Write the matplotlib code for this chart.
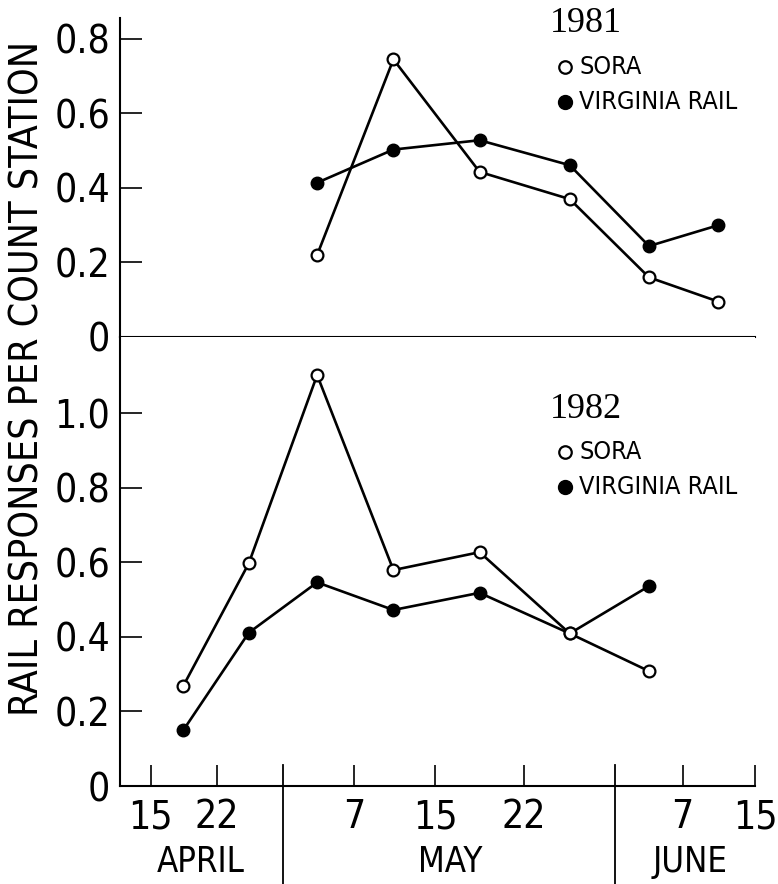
import os
import matplotlib
matplotlib.use("Agg")
import matplotlib.pyplot as plt
from matplotlib import font_manager
from matplotlib.font_manager import FontProperties
from matplotlib.lines import Line2D
from matplotlib.textpath import TextPath
from matplotlib.transforms import blended_transform_factory


# Data (x = day counted from 31 March)
days_1981 = [31.8, 39.5, 48.2, 57.3, 65.3, 72.3]
sora_1981 = [0.220, 0.745, 0.443, 0.370, 0.160, 0.095]
vrail_1981 = [0.414, 0.503, 0.528, 0.461, 0.244, 0.300]

days_1982 = [18.3, 24.9, 31.8, 39.5, 48.2, 57.3, 65.3]
sora_1982 = [0.269, 0.597, 1.102, 0.579, 0.627, 0.409, 0.308]
vrail_1982 = [0.150, 0.411, 0.546, 0.472, 0.518, 0.409, 0.536]

day_ticks = [15.0, 21.7, 35.5, 43.7, 52.7, 68.7, 76.0]
day_labels = ["15", "22", "7", "15", "22", "7", "15"]
month_breaks = [28.4, 61.9]
months = ["APRIL", "MAY", "JUNE"]
month_centers = [20.0, 45.2, 69.4]

yticks_1981 = [0, 0.2, 0.4, 0.6, 0.8]
yticks_1982 = [0, 0.2, 0.4, 0.6, 0.8, 1.0]


def pick_font(prefs, fallback):
    files = [f.fname for f in font_manager.fontManager.ttflist]
    for p in prefs:
        for fn in files:
            if os.path.basename(fn).lower() == p.lower():
                return FontProperties(fname=fn)
    return FontProperties(family=fallback)


# narrow sans, as in the original typesetting
sans = pick_font(["NotoSans-ExtraCondensed.ttf", "LiberationSansNarrow-Regular.ttf",
                  "NotoSans-Condensed.ttf", "DejaVuSansCondensed.ttf"], "DejaVu Sans")
serif = pick_font(["LiberationSerif-Regular.ttf"], "DejaVu Serif")


def fit(text, fp, w, h):
    """font size (pt, dpi 100) so the text fits in about w x h pixels"""
    bb = TextPath((0, 0), text, size=100, prop=fp).get_extents()
    sw = w / (bb.width / 72)
    sh = h / (bb.height / 72)
    return min(sh, sw)


fs_tick = fit("0.8", sans, 51, 40)
fs_month = fit("APRIL", sans, 88, 36)
fs_ylab = fit("RAIL RESPONSES PER COUNT STATION", sans, 667, 30)
fs_leg = fit("VIRGINIA RAIL", sans, 157, 24)
fs_year = fit("1981", serif, 67, 28)

W, H = 778, 884
fig = plt.figure(figsize=(W / 100, H / 100), dpi=100)

x0, x1 = 120, 755
ax_top = fig.add_axes([x0 / W, (H - 337) / H, (x1 - x0) / W, (337 - 18) / H])
ax_bot = fig.add_axes([x0 / W, (H - 786) / H, (x1 - x0) / W, (786 - 337) / H])

xlim = (11.9, 76.0)
lw = 1.9

for ax, ylim, yt in ((ax_top, (0, 0.856), yticks_1981), (ax_bot, (0, 1.204), yticks_1982)):
    ax.set_xlim(*xlim)
    ax.set_ylim(*ylim)
    for s in ("top", "right"):
        ax.spines[s].set_visible(False)
    for s in ("left", "bottom"):
        ax.spines[s].set_linewidth(1.5)
    ax.set_yticks(yt)
    ax.set_yticklabels(["0" if v == 0 else f"{v:.1f}" for v in yt])
    ax.tick_params(axis="y", direction="in", length=16, width=1.2, pad=7)
    for t in ax.get_yticklabels():
        t.set_fontproperties(sans)
        t.set_fontsize(fs_tick)

ax_top.yaxis.get_major_ticks()[0].tick1line.set_visible(False)
ax_top.set_xticks([])

ax_bot.set_xticks(day_ticks)
ax_bot.set_xticklabels(day_labels)
ax_bot.tick_params(axis="x", direction="in", length=15, width=1.2, pad=9)
for t in ax_bot.get_xticklabels():
    t.set_fontproperties(sans)
    t.set_fontsize(fs_tick)

# series
ax_top.plot(days_1981, vrail_1981, "-o", color="black", lw=lw, ms=9,
            mfc="black", mec="black", zorder=3)
ax_top.plot(days_1981, sora_1981, "-o", color="black", lw=lw, ms=8.5,
            mfc="white", mec="black", mew=1.6, zorder=4)
ax_bot.plot(days_1982, vrail_1982, "-o", color="black", lw=lw, ms=9,
            mfc="black", mec="black", zorder=3)
ax_bot.plot(days_1982, sora_1982, "-o", color="black", lw=lw, ms=8.5,
            mfc="white", mec="black", mew=1.6, zorder=4)

# month separators and names
trans = blended_transform_factory(ax_bot.transData, ax_bot.transAxes)
for b in month_breaks:
    ax_bot.plot([b, b], [0.047, -0.23], color="black", lw=1.3,
                transform=trans, clip_on=False)
for m, c in zip(months, month_centers):
    ax_bot.text(c, -0.169, m, transform=trans, ha="center", va="center",
                fontproperties=sans, fontsize=fs_month)

fig.text(28 / W, (H - 378) / H, "RAIL RESPONSES PER COUNT STATION",
         rotation=90, ha="center", va="center",
         fontproperties=sans, fontsize=fs_ylab)

# legends
handles = [
    Line2D([], [], ls="none", marker="o", ms=9, mfc="white", mec="black", mew=1.6),
    Line2D([], [], ls="none", marker="o", ms=10, mfc="black", mec="black"),
]
for ax, year, ytxt, yleg in ((ax_top, "1981", 24, 55), (ax_bot, "1982", 409, 440)):
    fig.text(550 / W, (H - ytxt) / H, year, fontproperties=serif, fontsize=fs_year,
             ha="left", va="center")
    leg = ax.legend(handles, ["SORA", "VIRGINIA RAIL"], loc="upper left",
                    bbox_to_anchor=(560 / W, (H - yleg) / H),
                    bbox_transform=fig.transFigure, frameon=False,
                    prop=sans, handlelength=0.7, handleheight=1.6,
                    handletextpad=0.7, labelspacing=0.8,
                    borderpad=0, borderaxespad=0)
    for t in leg.get_texts():
        t.set_fontsize(fs_leg)

fig.savefig("out.png", dpi=100)
